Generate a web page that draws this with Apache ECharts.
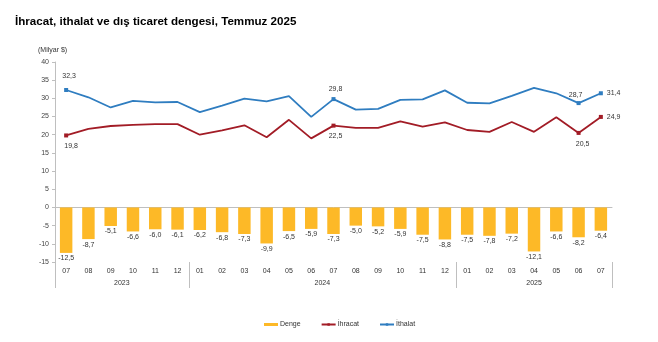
<!DOCTYPE html>
<html>
<head>
<meta charset="utf-8">
<script src="https://cdn.jsdelivr.net/npm/echarts@6/dist/echarts.min.js"></script>
<style>
  html, body { margin: 0; padding: 0; background: #fff; }
  #chart { width: 658px; height: 342px; }
</style>
</head>
<body>
<div id="chart"></div>
<script>
// Monthly foreign trade, billion USD, 2023-07 .. 2025-07
const months = ['07','08','09','10','11','12',
                '01','02','03','04','05','06','07','08','09','10','11','12',
                '01','02','03','04','05','06','07'];
const years = [
  { label: '2023', first: 0,  last: 5 },
  { label: '2024', first: 6,  last: 17 },
  { label: '2025', first: 18, last: 24 }
];
const denge   = [-12.5, -8.7, -5.1, -6.6, -6.0, -6.1, -6.2, -6.8, -7.3, -9.9, -6.5, -5.9,
                 -7.3, -5.0, -5.2, -5.9, -7.5, -8.8, -7.5, -7.8, -7.2, -12.1, -6.6, -8.2, -6.4];
const ihracat = [19.8, 21.6, 22.4, 22.7, 22.9, 22.9, 20.0, 21.2, 22.6, 19.3, 24.1, 19.0,
                 22.5, 21.9, 21.9, 23.7, 22.2, 23.4, 21.3, 20.8, 23.5, 20.8, 24.8, 20.5, 24.9];
const ithalat = [32.3, 30.3, 27.5, 29.3, 28.9, 29.0, 26.2, 28.0, 29.9, 29.2, 30.6, 24.9,
                 29.8, 26.9, 27.1, 29.6, 29.7, 32.2, 28.8, 28.6, 30.7, 32.9, 31.4, 28.7, 31.4];
const yTicks = { min: -15, max: 40, step: 5 };

// Points that carry a marker and a value label
const markedIdx = [0, 12, 23, 24];
const ithalatLabelPos = {
  0:  { position: 'top',   distance: 8, offset: [3, 0] },
  12: { position: 'top',   distance: 5, offset: [2, 0] },
  23: { position: 'top',   distance: 3, offset: [-3, 0] },
  24: { position: 'right', distance: 4, offset: [0, 0] }
};
const ihracatLabelPos = {
  0:  { position: 'bottom', distance: 5, offset: [5, 0] },
  12: { position: 'bottom', distance: 5, offset: [2, 0] },
  23: { position: 'bottom', distance: 6, offset: [4, 0] },
  24: { position: 'right',  distance: 4, offset: [0, 0] }
};

const FONT = 'Arial, "Liberation Sans", sans-serif';
const TXT = '#333';
const AXIS = '#bfbfbf';
const fmt = v => v.toFixed(1).replace('.', ',');

function lineData(values, posMap) {
  return values.map((v, i) => {
    if (markedIdx.indexOf(i) < 0) return { value: v, symbolSize: 0 };
    const p = posMap[i];
    return {
      value: v,
      symbolSize: 4,
      label: {
        show: true, position: p.position, distance: p.distance, offset: p.offset,
        formatter: d => fmt(d.value), fontSize: 7, color: TXT, fontFamily: FONT
      }
    };
  });
}

const chart = echarts.init(document.getElementById('chart'), null, { renderer: 'canvas' });

chart.setOption({
  animation: false,
  backgroundColor: '#fff',
  textStyle: { fontFamily: FONT },
  title: {
    text: 'İhracat, ithalat ve dış ticaret dengesi, Temmuz 2025',
    left: 10, top: 11,
    textStyle: { fontSize: 11.6, fontWeight: 'bold', color: '#000', fontFamily: FONT }
  },
  legend: {
    left: 259, top: 316,
    itemGap: 20,
    itemWidth: 14, itemHeight: 3,
    textStyle: { fontSize: 7, color: TXT, fontFamily: FONT, padding: [0, 0, 0, -3] },
    data: [
      { name: 'Denge', icon: 'rect' },
      { name: 'İhracat' },
      { name: 'İthalat' }
    ]
  },
  grid: { left: 55, right: 46, top: 62, bottom: 80 },
  xAxis: [
    {
      type: 'category', data: months,
      axisLine: { onZero: true, lineStyle: { color: AXIS, width: 1 } },
      axisTick: { show: false },
      axisLabel: { show: false }
    },
    {
      type: 'category', data: months, position: 'bottom',
      axisLine: { show: false, onZero: false },
      axisTick: { show: false },
      axisLabel: { interval: 0, fontSize: 7, color: TXT, margin: 6, fontFamily: FONT }
    }
  ],
  yAxis: {
    type: 'value', min: yTicks.min, max: yTicks.max, interval: yTicks.step,
    axisLine: { show: true, lineStyle: { color: AXIS } },
    axisTick: { show: true, length: 3, lineStyle: { color: AXIS } },
    axisLabel: { fontSize: 7, color: '#444', margin: 6, fontFamily: FONT },
    splitLine: { show: false }
  },
  series: [
    {
      name: 'Denge', type: 'bar', data: denge, barWidth: '56%',
      itemStyle: { color: '#FDB927' },
      label: {
        show: true, position: 'bottom', distance: 2, fontSize: 7, color: TXT,
        fontFamily: FONT, formatter: d => fmt(d.value)
      },
      z: 1
    },
    {
      name: 'İhracat', type: 'line', data: lineData(ihracat, ihracatLabelPos),
      symbol: 'rect', showAllSymbol: true,
      lineStyle: { color: '#A21C26', width: 1.8 },
      itemStyle: { color: '#A21C26' },
      z: 3
    },
    {
      name: 'İthalat', type: 'line', data: lineData(ithalat, ithalatLabelPos),
      symbol: 'rect', showAllSymbol: true,
      lineStyle: { color: '#2F7DC0', width: 1.8 },
      itemStyle: { color: '#2F7DC0' },
      z: 3
    }
  ]
});

// Unit label, year group labels and group separators of the category axis
const xAt = i => chart.convertToPixel({ xAxisIndex: 0 }, i);
const band = xAt(1) - xAt(0);
const yBottom = chart.convertToPixel({ yAxisIndex: 0 }, yTicks.min);
const yTop = chart.convertToPixel({ yAxisIndex: 0 }, yTicks.max);
const graphics = [
  {
    type: 'text', left: 38, top: yTop - 15,
    style: { text: '(Milyar $)', fontSize: 7, fill: TXT, fontFamily: FONT }
  }
];
const bounds = years.map(y => xAt(y.first) - band / 2);
bounds.push(xAt(years[years.length - 1].last) + band / 2);
bounds.forEach(x => {
  graphics.push({
    type: 'line', silent: true,
    shape: { x1: Math.round(x) + 0.5, y1: yBottom, x2: Math.round(x) + 0.5, y2: yBottom + 26 },
    style: { stroke: AXIS, lineWidth: 1 }
  });
});
years.forEach(y => {
  graphics.push({
    type: 'text', silent: true,
    x: (xAt(y.first) + xAt(y.last)) / 2, y: yBottom + 21,
    style: { text: y.label, fontSize: 7, fill: TXT, fontFamily: FONT, align: 'center', verticalAlign: 'middle' }
  });
});
chart.setOption({ graphic: graphics });
</script>
</body>
</html>
